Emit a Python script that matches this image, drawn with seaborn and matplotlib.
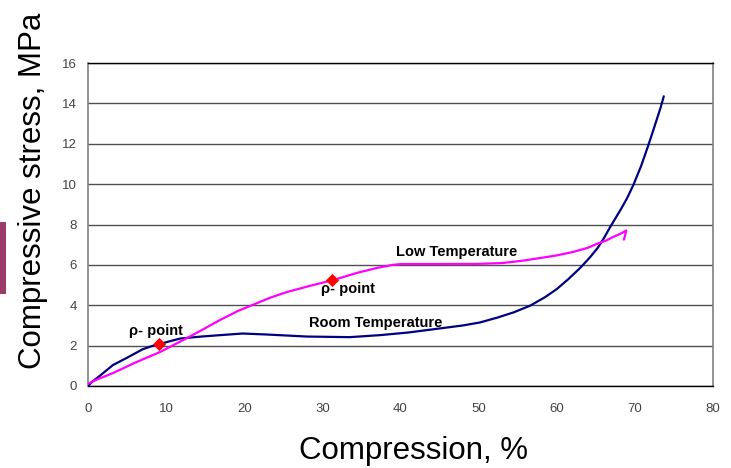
import matplotlib
matplotlib.use("Agg")
import matplotlib.pyplot as plt
import matplotlib.font_manager as fm
from matplotlib.patches import Rectangle
import seaborn as sns
import pandas as pd

# ---- data ----
room_x = [0, 0.5, 1.5, 3.2, 5, 7, 8.2, 9.2, 10.5, 11.8, 14.5, 17.3, 19.8, 22.9,
          28, 33.5, 37.4, 41, 45, 48, 50.2, 52.5, 54.5, 56.6, 58.5, 60, 61.5,
          63, 64.2, 65.2, 66, 66.8, 67.5, 68.2, 69, 69.8, 70.8, 71.7, 72.3,
          72.8, 73.3, 73.7]
room_y = [0, 0.2, 0.5, 1.04, 1.4, 1.82, 1.98, 2.08, 2.22, 2.35, 2.45, 2.53,
          2.6, 2.55, 2.45, 2.42, 2.52, 2.65, 2.85, 3.0, 3.15, 3.4, 3.65, 3.98,
          4.4, 4.8, 5.3, 5.85, 6.35, 6.82, 7.3, 7.85, 8.3, 8.75, 9.3, 9.95,
          10.9, 11.9, 12.6, 13.2, 13.8, 14.35]

low_x = [0, 1, 3.2, 6, 9.2, 12.7, 14.8, 16.9, 19.2, 21.6, 23.5, 25.5, 28.8,
         31.4, 34.4, 37, 39, 40, 45, 50, 53, 55.5, 57.9, 60, 62.1, 64, 65.2,
         66.3, 67.2, 68.2, 68.9, 68.6]
low_y = [0.1, 0.3, 0.64, 1.15, 1.68, 2.38, 2.82, 3.27, 3.72, 4.1, 4.4, 4.66,
         5.0, 5.25, 5.6, 5.85, 6.0, 6.04, 6.04, 6.05, 6.09, 6.2, 6.34, 6.47,
         6.64, 6.85, 7.05, 7.2, 7.38, 7.55, 7.7, 7.25]

rho_x = [9.1, 31.2]
rho_y = [2.08, 5.25]

labels = ["ρ- point", "ρ- point", "Room Temperature", "Low Temperature"]
label_x = [8.7, 33.3, 36.8, 47.2]
label_y = [2.72, 4.8, 3.12, 6.62]

x_ticks = [0, 10, 20, 30, 40, 50, 60, 70, 80]
y_ticks = [0, 2, 4, 6, 8, 10, 12, 14, 16]

# ---- style ----
sns.set_style("white")
avail = {f.name for f in fm.fontManager.ttflist}
main_font = "Liberation Sans" if "Liberation Sans" in avail else "DejaVu Sans"
tick_font = "Liberation Sans Narrow" if "Liberation Sans Narrow" in avail else main_font
plt.rcParams["font.family"] = [main_font, "DejaVu Sans"]

fig = plt.figure(figsize=(7.31, 4.68), dpi=100)
ax = fig.add_axes([88 / 731, 82 / 468, 625 / 731, 323 / 468])

room_df = pd.DataFrame({"x": room_x, "y": room_y})
low_df = pd.DataFrame({"x": low_x, "y": low_y})
rho_df = pd.DataFrame({"x": rho_x, "y": rho_y})

sns.lineplot(data=room_df, x="x", y="y", sort=False, estimator=None,
             color="#000080", linewidth=1.6, ax=ax, zorder=3)
sns.lineplot(data=low_df, x="x", y="y", sort=False, estimator=None,
             color="#FF00FF", linewidth=1.6, ax=ax, zorder=3)
sns.scatterplot(data=rho_df, x="x", y="y", marker="D", color="#FF0000",
                s=45, edgecolor="#FF0000", linewidth=0, ax=ax, zorder=4)

for t, tx, ty in zip(labels, label_x, label_y):
    ax.text(tx, ty, t, ha="center", va="center", fontsize=10.5,
            fontweight="bold", color="#000000", zorder=5)

ax.set_xlim(0, 80)
ax.set_ylim(0, 16)
ax.set_xticks(x_ticks)
ax.set_yticks(y_ticks)
ax.set_xticklabels([str(v) for v in x_ticks], fontfamily=tick_font)
ax.set_yticklabels([str(v) for v in y_ticks], fontfamily=tick_font)
ax.tick_params(axis="both", which="major", direction="out", length=5,
               width=1, color="#808080", labelcolor="#444444", labelsize=9.5)
ax.tick_params(axis="x", pad=7)
ax.tick_params(axis="y", pad=3)

ax.yaxis.grid(True, color="#505050", linewidth=1)
ax.xaxis.grid(False)
ax.set_axisbelow(True)

for side in ["left", "right"]:
    ax.spines[side].set_color("#808080")
    ax.spines[side].set_linewidth(1.2)
for side in ["top", "bottom"]:
    ax.spines[side].set_color("#000000")
    ax.spines[side].set_linewidth(1)

ax.set_xlabel("Compression, %", fontsize=22.5, color="#000000")
ax.xaxis.set_label_coords((414 - 88) / 625, (386 - 436) / 323)
ax.set_ylabel("Compressive stress, MPa", fontsize=22.5, color="#000000")
ax.yaxis.set_label_coords((48 - 88) / 625, (386 - 191) / 323)

# decorative side bar from the original slide
fig.patches.append(Rectangle((0, 1 - 294 / 468), 6 / 731, 72 / 468,
                             transform=fig.transFigure, facecolor="#9C3B6B",
                             edgecolor="none"))

fig.savefig("out.png", dpi=100)
